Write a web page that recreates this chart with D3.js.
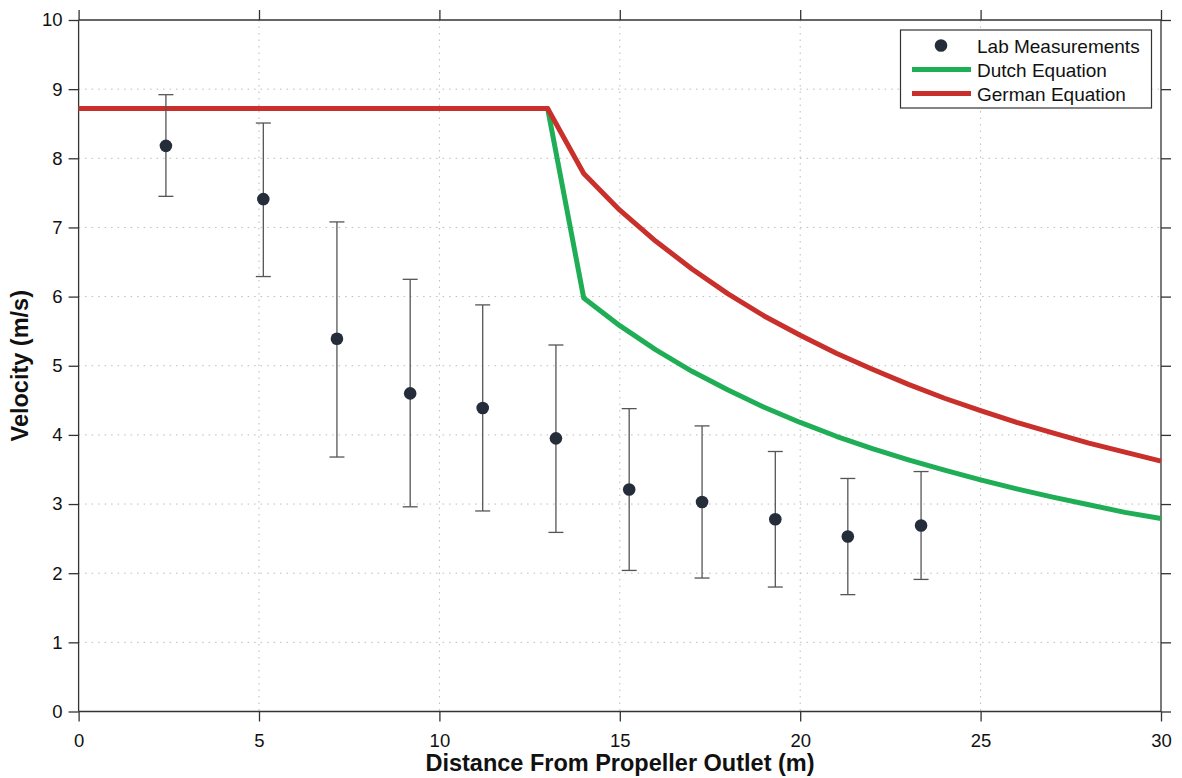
<!DOCTYPE html>
<html lang="en">
<head>
<meta charset="UTF-8">
<title>Velocity vs distance</title>
<script src="https://cdn.jsdelivr.net/npm/d3@7/dist/d3.min.js"></script>
<style>
    body { margin: 0; background: #fff; }
    text { font-family: "Liberation Sans", Arial, sans-serif; }
</style>
</head>
<body>
<div id="chart"></div>
<script>
// lab measurements (x, mean, lower, upper)
var labX = [2.42, 5.12, 7.16, 9.19, 11.20, 13.23, 15.26, 17.28, 19.31, 21.32, 23.35];
var labV = [8.18, 7.41, 5.39, 4.60, 4.39, 3.95, 3.21, 3.03, 2.78, 2.53, 2.69];
var labLo = [7.45, 6.29, 3.68, 2.96, 2.90, 2.59, 2.04, 1.93, 1.80, 1.69, 1.91];
var labHi = [8.92, 8.51, 7.08, 6.25, 5.88, 5.30, 4.38, 4.13, 3.76, 3.37, 3.47];

// equation curves
var eqX = [0, 13, 14, 15, 16, 17, 18, 19, 20, 21, 22, 23, 24, 25, 26, 27, 28, 29, 30];
var dutchV = [8.72, 8.72, 5.98, 5.58, 5.23, 4.92, 4.65, 4.40, 4.18, 3.98, 3.80, 3.64, 3.49, 3.35, 3.22, 3.10, 2.99, 2.88, 2.79];
var germanV = [8.72, 8.72, 7.78, 7.25, 6.80, 6.40, 6.04, 5.72, 5.44, 5.18, 4.95, 4.73, 4.53, 4.35, 4.18, 4.03, 3.88, 3.75, 3.62];

var xTicks = [0, 5, 10, 15, 20, 25, 30];
var yTicks = [0, 1, 2, 3, 4, 5, 6, 7, 8, 9, 10];
var legendNames = ["Lab Measurements", "Dutch Equation", "German Equation"];

var width = 1182, height = 778;
var mLeft = 78.6, mRight = 1161, mTop = 20, mBottom = 711.5;

var svg = d3.select("#chart").append("svg")
    .attr("width", width)
    .attr("height", height);

var x = d3.scaleLinear().domain([0, 30]).range([mLeft, mRight]);
var y = d3.scaleLinear().domain([0, 10]).range([mBottom, mTop]);

// grid
var grid = svg.append("g");
grid.selectAll(".gy").data(yTicks.slice(1, -1)).enter().append("line")
    .attr("x1", mLeft).attr("x2", mRight)
    .attr("y1", function(d){ return y(d); }).attr("y2", function(d){ return y(d); })
    .attr("stroke", "#bbb").attr("stroke-width", 1).attr("stroke-dasharray", "1.5,5");
grid.selectAll(".gx").data(xTicks.slice(1, -1)).enter().append("line")
    .attr("y1", mTop).attr("y2", mBottom)
    .attr("x1", function(d){ return x(d); }).attr("x2", function(d){ return x(d); })
    .attr("stroke", "#bbb").attr("stroke-width", 1).attr("stroke-dasharray", "1.5,5");

// axes (box with outward ticks)
var fmt = d3.format("d");
var axB = svg.append("g").attr("transform", "translate(0," + mBottom + ")")
    .call(d3.axisBottom(x).tickValues(xTicks).tickSize(10).tickPadding(12).tickFormat(fmt));
var axT = svg.append("g").attr("transform", "translate(0," + mTop + ")")
    .call(d3.axisTop(x).tickValues(xTicks).tickSize(10).tickFormat(""));
var axL = svg.append("g").attr("transform", "translate(" + mLeft + ",0)")
    .call(d3.axisLeft(y).tickValues(yTicks).tickSize(10).tickPadding(6).tickFormat(fmt));
var axR = svg.append("g").attr("transform", "translate(" + mRight + ",0)")
    .call(d3.axisRight(y).tickValues(yTicks).tickSize(10).tickFormat(""));
[axB, axT, axL, axR].forEach(function(a){
    a.select(".domain").attr("stroke", "#333").attr("stroke-width", 1.3);
    a.selectAll(".tick line").attr("stroke", "#333").attr("stroke-width", 1.3);
    a.selectAll("text").attr("fill", "#111").style("font-size", "18.5px")
        .style("font-family", "Liberation Sans, Arial, sans-serif");
});
axB.select(".domain").attr("d", "M" + mLeft + ",0H" + mRight);
axT.select(".domain").attr("d", "M" + mLeft + ",0H" + mRight);
axL.select(".domain").attr("d", "M0," + mTop + "V" + mBottom);
axR.select(".domain").attr("d", "M0," + mTop + "V" + mBottom);

// curves
var line = d3.line()
    .x(function(d, i){ return x(eqX[i]); })
    .y(function(d){ return y(d); });
svg.append("path").datum(dutchV).attr("d", line)
    .attr("fill", "none").attr("stroke", "#1fae55").attr("stroke-width", 5)
    .attr("stroke-linejoin", "round");
svg.append("path").datum(germanV).attr("d", line)
    .attr("fill", "none").attr("stroke", "#c9302b").attr("stroke-width", 5)
    .attr("stroke-linejoin", "round");

// error bars + points
var lab = labX.map(function(d, i){ return {x: d, v: labV[i], lo: labLo[i], hi: labHi[i]}; });
var eb = svg.append("g").selectAll("g").data(lab).enter().append("g");
eb.append("line")
    .attr("x1", function(d){ return x(d.x); }).attr("x2", function(d){ return x(d.x); })
    .attr("y1", function(d){ return y(d.lo); }).attr("y2", function(d){ return y(d.hi); })
    .attr("stroke", "#555").attr("stroke-width", 1.3);
eb.append("line")
    .attr("x1", function(d){ return x(d.x) - 7.5; }).attr("x2", function(d){ return x(d.x) + 7.5; })
    .attr("y1", function(d){ return y(d.hi); }).attr("y2", function(d){ return y(d.hi); })
    .attr("stroke", "#555").attr("stroke-width", 1.3);
eb.append("line")
    .attr("x1", function(d){ return x(d.x) - 7.5; }).attr("x2", function(d){ return x(d.x) + 7.5; })
    .attr("y1", function(d){ return y(d.lo); }).attr("y2", function(d){ return y(d.lo); })
    .attr("stroke", "#555").attr("stroke-width", 1.3);
eb.append("circle")
    .attr("cx", function(d){ return x(d.x); }).attr("cy", function(d){ return y(d.v); })
    .attr("r", 6.3).attr("fill", "#252d3a");

// legend
var lg = svg.append("g");
lg.append("rect").attr("x", 900.5).attr("y", 30).attr("width", 251).attr("height", 78)
    .attr("fill", "#fff").attr("stroke", "#333").attr("stroke-width", 1.2);
lg.append("circle").attr("cx", 941).attr("cy", 45.5).attr("r", 6.3).attr("fill", "#252d3a");
lg.append("line").attr("x1", 912).attr("x2", 971).attr("y1", 69.5).attr("y2", 69.5)
    .attr("stroke", "#1fae55").attr("stroke-width", 5);
lg.append("line").attr("x1", 912).attr("x2", 971).attr("y1", 93.5).attr("y2", 93.5)
    .attr("stroke", "#c9302b").attr("stroke-width", 5);
lg.selectAll(".lt").data(legendNames).enter().append("text")
    .attr("x", 977).attr("y", function(d, i){ return 52.5 + i * 24; })
    .style("font-size", "19px").attr("fill", "#111")
    .text(function(d){ return d; });

// axis titles
svg.append("text").attr("x", 620).attr("y", 771)
    .attr("text-anchor", "middle").style("font-size", "23.5px").style("font-weight", "bold")
    .attr("fill", "#111").text("Distance From Propeller Outlet (m)");
svg.append("text").attr("transform", "translate(28," + ((mTop + mBottom) / 2) + ") rotate(-90)")
    .attr("text-anchor", "middle").style("font-size", "23.5px").style("font-weight", "bold")
    .attr("fill", "#111").text("Velocity (m/s)");
</script>
</body>
</html>
